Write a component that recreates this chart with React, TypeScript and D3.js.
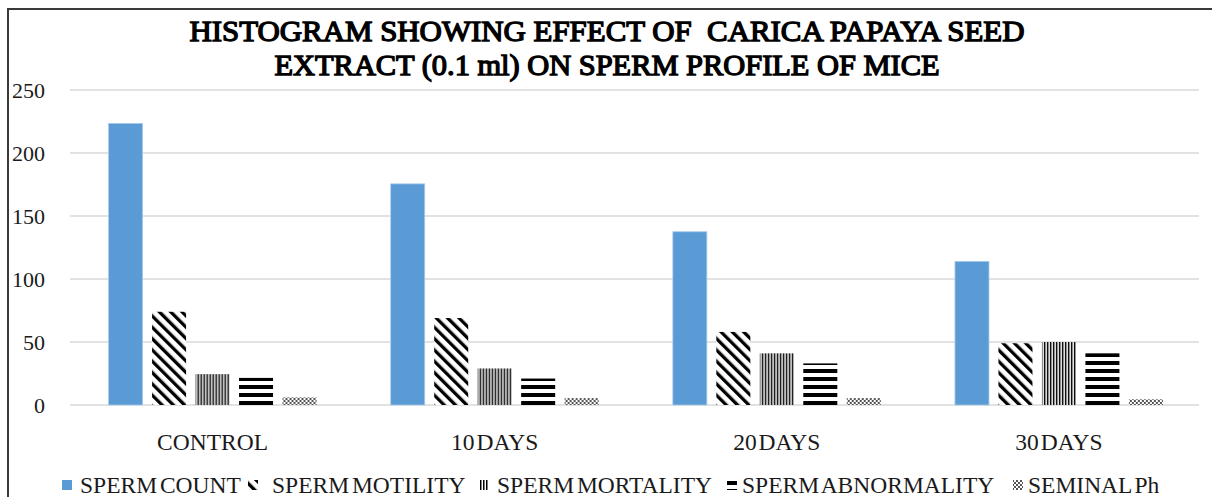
import React, { useEffect, useRef } from 'react';
import * as d3 from 'd3';

const categories = ['CONTROL', '10 DAYS', '20 DAYS', '30 DAYS'];
const seriesNames = ['SPERM COUNT', 'SPERM MOTILITY', 'SPERM MORTALITY', 'SPERM ABNORMALITY', 'SEMINAL Ph'];
const spermCount = [223.5, 175.5, 137.5, 114];
const spermMotility = [74, 69, 58, 49];
const spermMortality = [24.5, 29, 41, 50];
const spermAbnormality = [21.5, 21, 33, 41];
const seminalPh = [6, 5.5, 5.5, 4.5];
const yTicks = [0, 50, 100, 150, 200, 250];
const titleLines = ['HISTOGRAM SHOWING EFFECT OF  CARICA PAPAYA SEED', 'EXTRACT (0.1 ml) ON SPERM PROFILE OF MICE'];

const serif = "'Liberation Serif', 'Times New Roman', serif";

const App: React.FC = () => {
  const svgRef = useRef<SVGSVGElement>(null);

  useEffect(() => {
    if (!svgRef.current) return;
    const svg = d3.select(svgRef.current);
    svg.selectAll('*').remove();

    const width = 1212;
    const height = 497;
    const margin = { top: 90, right: 12, bottom: 92, left: 71.5 };
    svg.attr('width', width).attr('height', height);

    const series = [spermCount, spermMotility, spermMortality, spermAbnormality, seminalPh];
    const fills = ['#5b9bd5', 'url(#pMotility)', 'url(#pMortality)', 'url(#pAbnormality)', 'url(#pPh)'];

    // patterns
    const defs = svg.append('defs');
    const pm = defs.append('pattern')
      .attr('id', 'pMotility').attr('patternUnits', 'userSpaceOnUse')
      .attr('width', 8).attr('height', 8)
      .attr('patternTransform', 'rotate(-45)');
    pm.append('rect').attr('width', 8).attr('height', 8).attr('fill', '#fff');
    pm.append('rect').attr('width', 3.3).attr('height', 8).attr('fill', '#000');

    const pmo = defs.append('pattern')
      .attr('id', 'pMortality').attr('patternUnits', 'userSpaceOnUse')
      .attr('width', 3).attr('height', 3);
    pmo.append('rect').attr('width', 3).attr('height', 3).attr('fill', '#fff');
    pmo.append('rect').attr('width', 1.5).attr('height', 3).attr('fill', '#000');

    const pa = defs.append('pattern')
      .attr('id', 'pAbnormality').attr('patternUnits', 'userSpaceOnUse')
      .attr('width', 8).attr('height', 8)
      .attr('y', 1);
    pa.append('rect').attr('width', 8).attr('height', 8).attr('fill', '#fff');
    pa.append('rect').attr('width', 8).attr('height', 4).attr('fill', '#000');

    const pp = defs.append('pattern')
      .attr('id', 'pPh').attr('patternUnits', 'userSpaceOnUse')
      .attr('width', 4).attr('height', 4);
    pp.append('rect').attr('width', 4).attr('height', 4).attr('fill', '#fff');
    pp.append('rect').attr('width', 2).attr('height', 2).attr('fill', '#555');
    pp.append('rect').attr('x', 2).attr('y', 2).attr('width', 2).attr('height', 2).attr('fill', '#555');

    // frame
    svg.append('rect')
      .attr('x', 8).attr('y', 9)
      .attr('width', width + 20).attr('height', height + 20)
      .attr('fill', 'none').attr('stroke', '#3a3a3a').attr('stroke-width', 2);

    const x0 = d3.scaleBand<string>()
      .domain(categories)
      .range([margin.left, width - margin.right]);

    const x1 = d3.scaleBand<number>()
      .domain(d3.range(series.length))
      .range([0, x0.bandwidth()])
      .paddingInner(0.218)
      .paddingOuter(0.853);

    const y = d3.scaleLinear()
      .domain([0, 250])
      .range([height - margin.bottom, margin.top]);

    // grid
    svg.append('g')
      .selectAll('line')
      .data(yTicks)
      .enter().append('line')
      .attr('x1', 70).attr('x2', 1199)
      .attr('y1', d => y(d)).attr('y2', d => y(d))
      .attr('stroke', '#d9d9d9').attr('stroke-width', 1.5);

    svg.append('g')
      .selectAll('text')
      .data(yTicks)
      .enter().append('text')
      .attr('x', 45).attr('y', d => y(d))
      .attr('dy', '0.35em')
      .attr('text-anchor', 'end')
      .style('font-family', serif)
      .style('font-size', '22px')
      .attr('fill', '#1a1a1a')
      .text(d => d);

    // bars
    const groups = svg.append('g')
      .selectAll('g')
      .data(categories)
      .enter().append('g')
      .attr('transform', d => `translate(${x0(d)},0)`);

    groups.selectAll('rect')
      .data((_, ci) => series.map((s, si) => ({ si, v: s[ci] })))
      .enter().append('rect')
      .attr('x', d => x1(d.si) || 0)
      .attr('width', x1.bandwidth())
      .attr('y', d => y(d.v))
      .attr('height', d => y(0) - y(d.v))
      .attr('fill', d => fills[d.si])
      .attr('stroke', d => d.si === 0 ? '#a9c9ea' : 'none')
      .attr('stroke-width', 0.8);

    // category labels
    svg.append('g')
      .selectAll('text')
      .data(categories)
      .enter().append('text')
      .attr('x', d => (x0(d) || 0) + x0.bandwidth() / 2)
      .attr('y', 450)
      .attr('text-anchor', 'middle')
      .style('font-family', serif)
      .style('font-size', '23.5px')
      .style('word-spacing', '-4px')
      .attr('fill', '#1a1a1a')
      .text(d => d);

    // title (regular serif thickened with a stroke)
    const titleWidths = [835, 665];
    svg.append('g')
      .selectAll('text')
      .data(titleLines)
      .enter().append('text')
      .attr('x', 607)
      .attr('y', (_, i) => 41 + i * 34)
      .attr('text-anchor', 'middle')
      .attr('textLength', (_, i) => titleWidths[i])
      .attr('lengthAdjust', 'spacingAndGlyphs')
      .style('font-family', serif)
      .style('font-weight', '400')
      .style('font-size', '29px')
      .style('white-space', 'pre')
      .attr('fill', '#000')
      .attr('stroke', '#000')
      .attr('stroke-width', 1.3)
      .text(d => d);

    // legend
    const legendKeyX = [62, 248, 479, 727, 1013];
    const legendTextX = [80, 272, 497, 742, 1028];
    const legend = svg.append('g');
    seriesNames.forEach((name, i) => {
      legend.append('rect')
        .attr('x', legendKeyX[i]).attr('y', 480)
        .attr('width', 10).attr('height', 10)
        .attr('fill', fills[i]);
      legend.append('text')
        .attr('x', legendTextX[i]).attr('y', 493)
        .style('font-family', serif)
        .style('font-size', '23.5px')
        .style('word-spacing', '-3px')
        .attr('fill', '#1a1a1a')
        .text(name);
    });
  }, []);

  return (
    <div style={{ position: 'absolute', left: 0, top: 0, background: '#fff' }}>
      <svg ref={svgRef} style={{ display: 'block' }}></svg>
    </div>
  );
};

export default App;
